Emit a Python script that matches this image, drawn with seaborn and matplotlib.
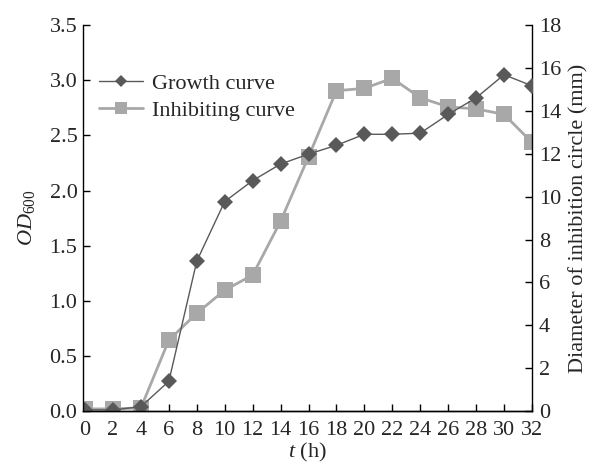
import matplotlib
matplotlib.use("Agg")
import matplotlib.pyplot as plt
import seaborn as sns
import pandas as pd

hours = [0, 2, 4, 6, 8, 10, 12, 14, 16, 18, 20, 22, 24, 26, 28, 30, 32]
growth_od = [0.01, 0.01, 0.04, 0.27, 1.36, 1.90, 2.09, 2.24, 2.33, 2.41, 2.51, 2.51, 2.52, 2.69, 2.84, 3.05, 2.95]
inhib_mm = [0.1, 0.1, 0.15, 3.31, 4.56, 5.64, 6.34, 8.85, 11.86, 14.94, 15.05, 15.52, 14.61, 14.19, 14.09, 13.84, 12.53]
x_ticks = list(range(0, 33, 2))
left_ticks = [0.0, 0.5, 1.0, 1.5, 2.0, 2.5, 3.0, 3.5]
right_ticks = [0, 2, 4, 6, 8, 10, 12, 14, 16, 18]

df = pd.DataFrame({"t": hours, "od": growth_od, "mm": inhib_mm})

sns.set_style("ticks")
plt.rcParams["font.family"] = "serif"
plt.rcParams["font.serif"] = ["Liberation Serif"]
plt.rcParams["mathtext.fontset"] = "custom"
plt.rcParams["mathtext.rm"] = "Liberation Serif"
plt.rcParams["mathtext.it"] = "Liberation Serif:italic"

fig = plt.figure(figsize=(5.97, 4.65), dpi=100)
ax = fig.add_axes([0.139, 0.116, 0.752, 0.830])
ax2 = ax.twinx()

dark = "#595959"
light = "#a8a8a8"

sns.lineplot(data=df, x="t", y="mm", ax=ax2, color=light, lw=2, marker="s",
             markersize=11, markeredgewidth=0, label="Inhibiting curve", legend=False)
sns.lineplot(data=df, x="t", y="od", ax=ax, color=dark, lw=1, marker="D",
             markersize=8, markeredgewidth=0, label="Growth curve", legend=False)

ax.set_zorder(ax2.get_zorder() + 1)
ax.patch.set_visible(False)

ax.set_ylim(0, 3.5)
ax2.set_ylim(0, 18)
ax.set_xticks(x_ticks)
ax.set_yticks(left_ticks)
ax.set_yticklabels([f"{v:.1f}" for v in left_ticks])
ax2.set_yticks(right_ticks)

for a in (ax, ax2):
    a.tick_params(direction="in", labelsize=16, length=5, width=1, color="black", pad=4)
    for s in a.spines.values():
        s.set_linewidth(1)
        s.set_color("black")
ax.spines["top"].set_visible(False)
ax2.spines["top"].set_visible(False)
ax.spines["right"].set_visible(False)
ax2.spines["left"].set_visible(False)
ax.tick_params(axis="x", pad=7)
ax2.tick_params(axis="y", pad=5)

ax.set_xlabel(r"$t$ (h)", fontsize=16, labelpad=1)
ax.set_ylabel(r"$OD_{600}$", fontsize=16, labelpad=9)
ax2.set_ylabel("Diameter of inhibition circle (mm)", fontsize=16, labelpad=6)
ax.set_xlim(-0.15, 32)

h1, l1 = ax.get_legend_handles_labels()
h2, l2 = ax2.get_legend_handles_labels()
ax.legend(h1 + h2, l1 + l2, loc="upper left", bbox_to_anchor=(0.0, 0.915),
          frameon=False, fontsize=16, handlelength=2.0, handletextpad=0.4,
          labelspacing=0.3, borderaxespad=0.3, markerscale=0.75)

fig.savefig("out.png", dpi=100, facecolor="white")
